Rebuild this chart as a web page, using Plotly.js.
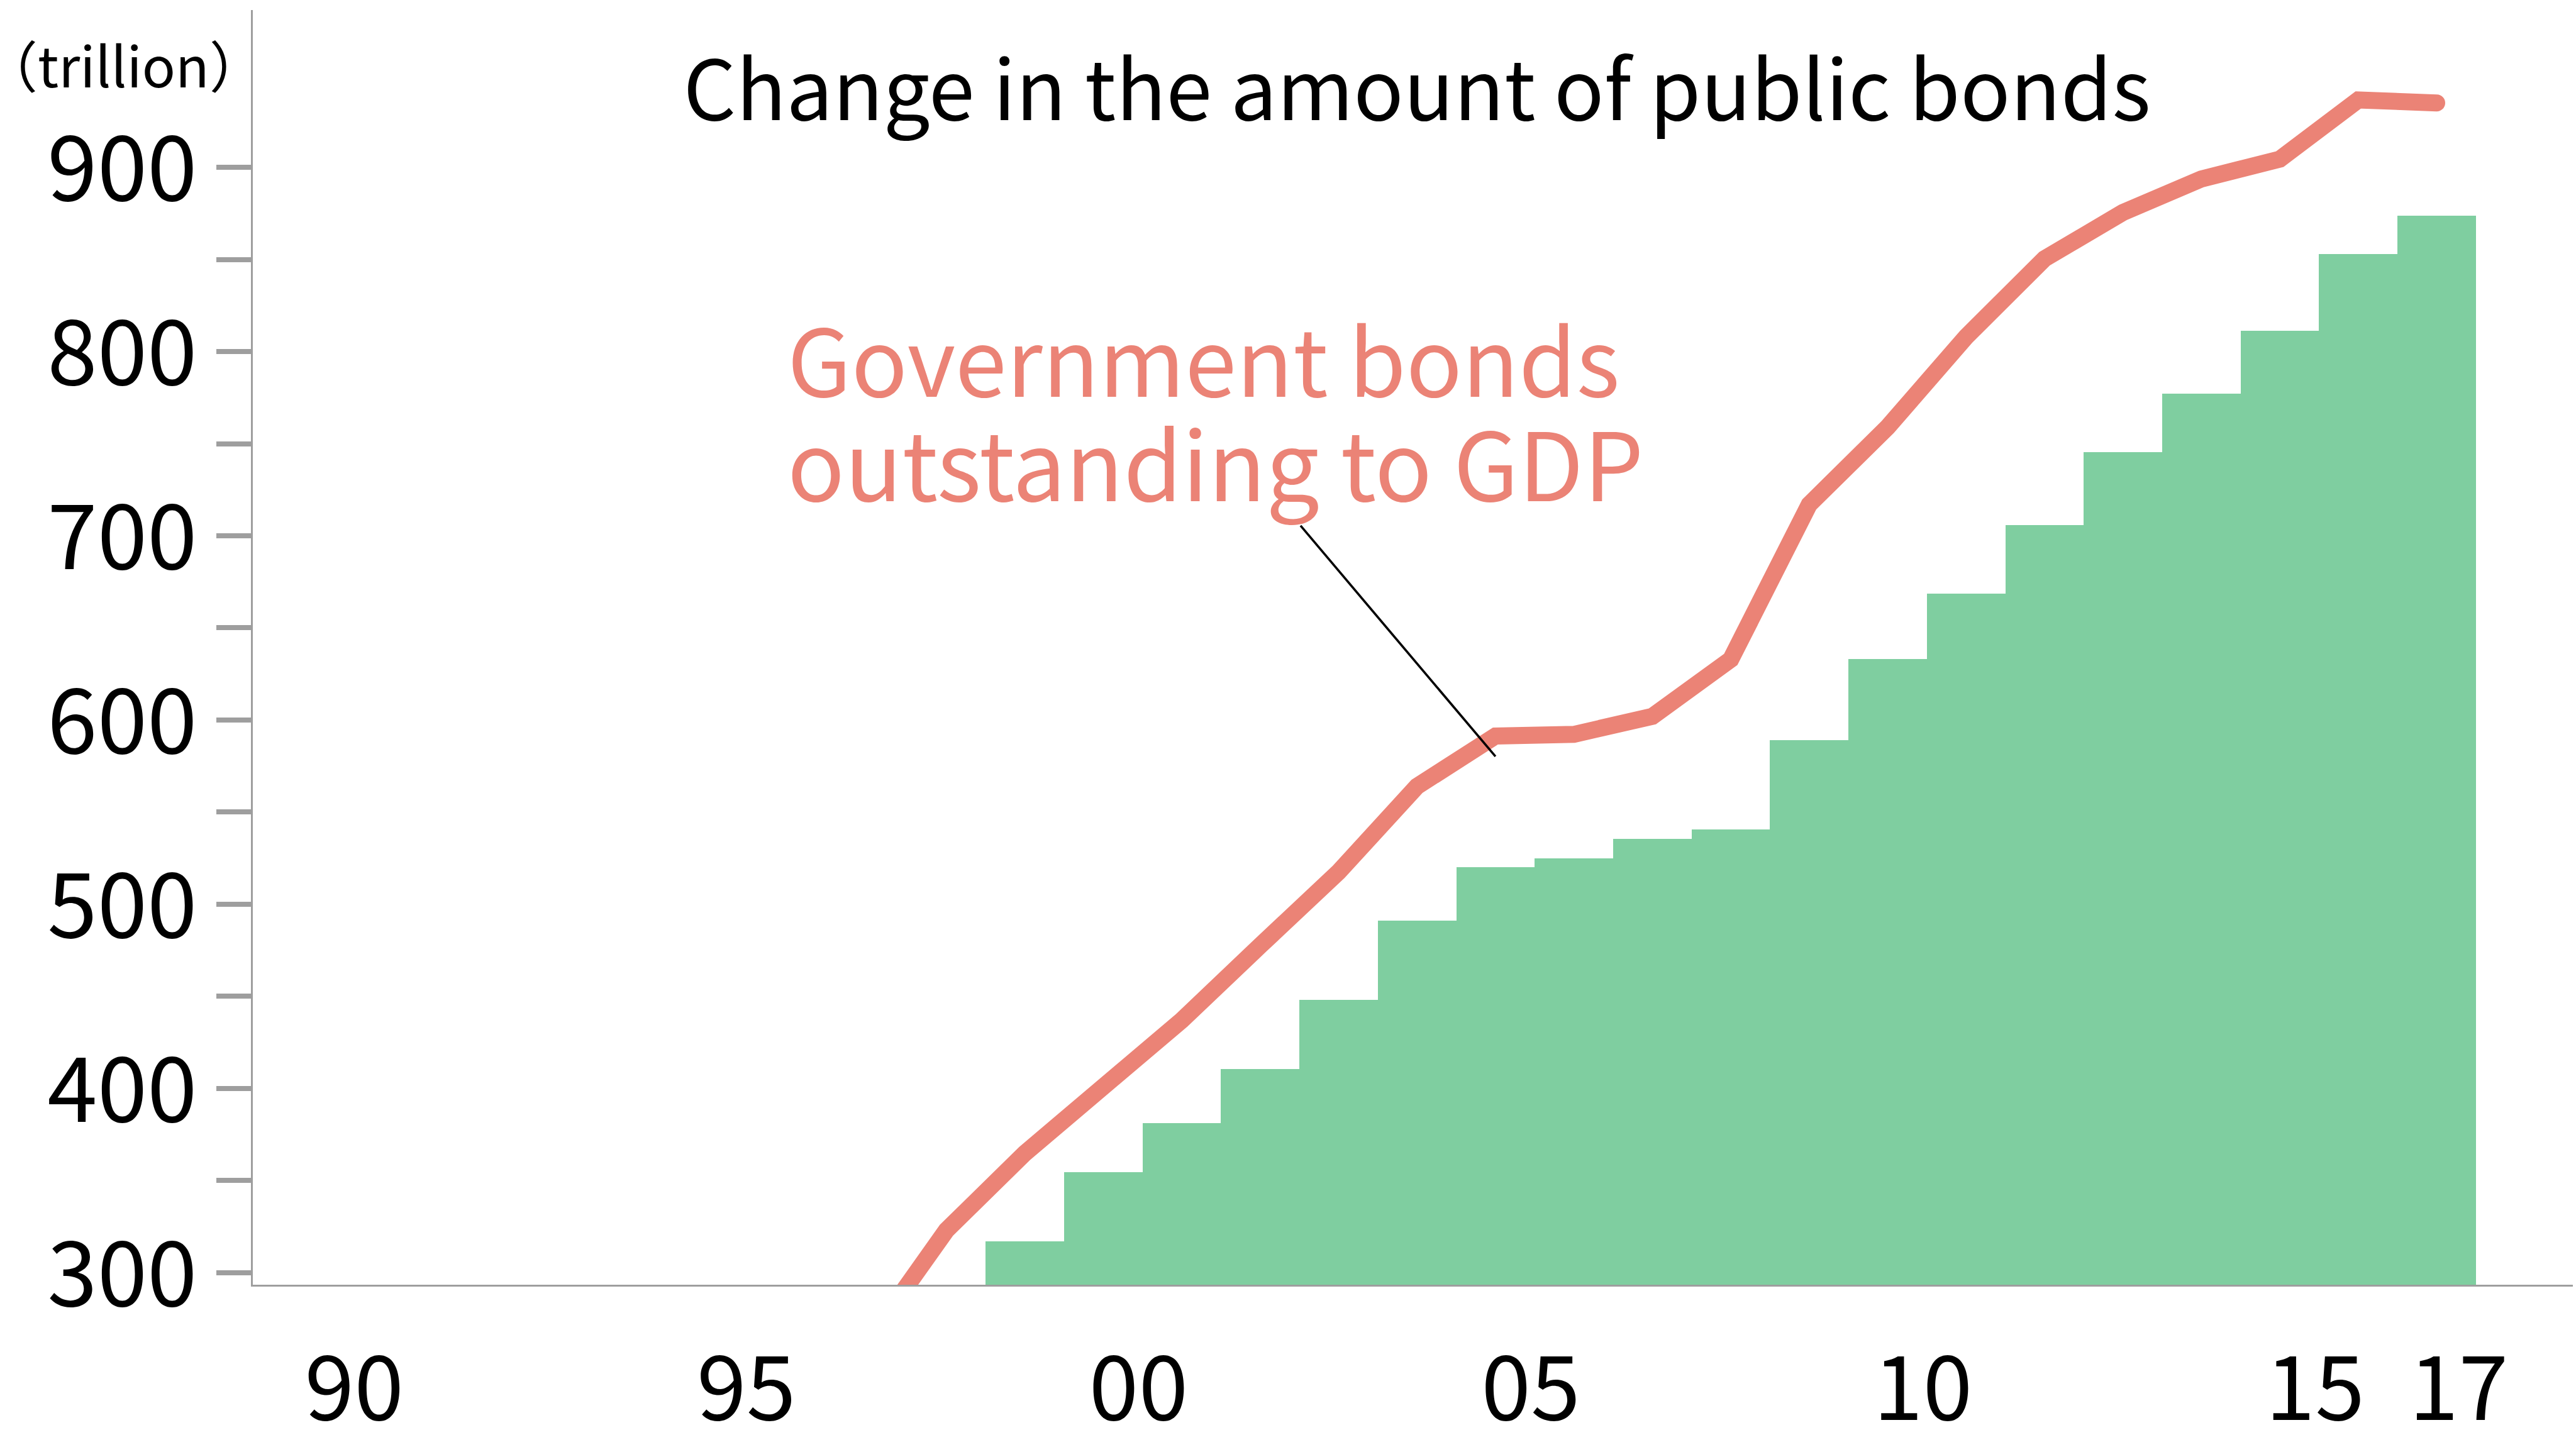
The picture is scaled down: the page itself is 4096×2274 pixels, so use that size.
<!DOCTYPE html>
<html>
<head>
<meta charset="utf-8">
<script src="https://cdn.plot.ly/plotly-3.0.1.min.js"></script>
<style>
  html, body { margin: 0; padding: 0; background: #ffffff; }
  #chart { width: 4096px; height: 2274px; }
</style>
</head>
<body>
<div id="chart"></div>
<script>
// ---- data ----
const barYears = [1999, 2000, 2001, 2002, 2003, 2004, 2005, 2006, 2007, 2008,
                  2009, 2010, 2011, 2012, 2013, 2014, 2015, 2016, 2017];
const bondValues = [317, 354.5, 381, 410.5, 448, 491, 520, 525, 535.3, 540.7,
                    589, 633, 668.6, 705.7, 745.5, 777.2, 811.3, 853.1, 873.7];

const lineYears = [1997, 1998, 1999, 2000, 2001, 2002, 2003, 2004, 2005, 2006, 2007,
                   2008, 2009, 2010, 2011, 2012, 2013, 2014, 2015, 2016, 2017];
const ratioValues = [263, 323, 364.8, 401, 437, 477.5, 517.5, 564, 591.3, 592.2, 602,
                     632.9, 717, 759, 808, 850.4, 875.5, 893.7, 904.5, 936.6, 935];

const yTickVals = [300, 350, 400, 450, 500, 550, 600, 650, 700, 750, 800, 850, 900];
const yTickText = ['300', '', '400', '', '500', '', '600', '', '700', '', '800', '', '900'];

const xTickVals = [1990.45, 1995.45, 2000.45, 2005.45, 2010.45, 2015.45, 2017.28];
const xTickText = ['90', '95', '00', '05', '10', '15', '17'];

const titleText = 'Change in the amount of public bonds';
const unitText = '\uFF08trillion\uFF09';
const seriesLabel1 = 'Government bonds';
const seriesLabel2 = 'outstanding to GDP';

// ---- styles ----
const FONT = '"Noto Sans CJK JP", "Noto Sans", sans-serif';
const BAR_COLOR = '#7fcea0';
const LINE_COLOR = '#eb8376';
const AXIS_GRAY = '#9e9e9e';

const traces = [
  {
    type: 'bar',
    x: barYears,
    y: bondValues,
    width: 1,
    marker: { color: BAR_COLOR, line: { width: 0 } },
    hoverinfo: 'skip',
    showlegend: false
  },
  {
    type: 'scatter',
    mode: 'lines',
    x: lineYears,
    y: ratioValues,
    line: { color: LINE_COLOR, width: 27 },
    hoverinfo: 'skip',
    showlegend: false
  }
];

const layout = {
  width: 4096,
  height: 2274,
  paper_bgcolor: '#ffffff',
  plot_bgcolor: '#ffffff',
  margin: { l: 402, r: 5.4, t: 16.3, b: 231.4, pad: 0 },
  font: { family: FONT, color: '#000000' },
  bargap: 0,
  title: {
    text: titleText,
    font: { family: FONT, size: 131.5, color: '#000000' },
    x: 0.5501, xanchor: 'center', xref: 'container',
    y: 0.9362, yanchor: 'middle', yref: 'container'
  },
  xaxis: {
    range: [1989.157, 2018.736],
    tickmode: 'array',
    tickvals: xTickVals,
    ticktext: xTickText,
    ticks: '',
    showgrid: false,
    zeroline: false,
    showline: true,
    linecolor: AXIS_GRAY,
    linewidth: 3,
    tickfont: { family: FONT, size: 142, color: '#000000' },
    ticklabelstandoff: 42,
    fixedrange: true
  },
  yaxis: {
    range: [293.43, 985.4],
    tickmode: 'array',
    tickvals: yTickVals,
    ticktext: yTickText,
    ticks: 'outside',
    ticklen: 55,
    tickwidth: 8,
    tickcolor: AXIS_GRAY,
    showgrid: false,
    zeroline: false,
    showline: true,
    linecolor: AXIS_GRAY,
    linewidth: 3,
    tickfont: { family: FONT, size: 143, color: '#000000' },
    ticklabelstandoff: 2,
    ticklabelshift: 3,
    fixedrange: true
  },
  annotations: [
    {
      text: unitText, xref: 'paper', yref: 'paper',
      x: -0.0556, y: 0.9582, xanchor: 'center', yanchor: 'middle',
      showarrow: false,
      font: { family: FONT, size: 88, color: '#000000' }
    },
    {
      text: seriesLabel1, xref: 'paper', yref: 'paper',
      x: 0.2300, y: 0.7285, xanchor: 'left', yanchor: 'middle',
      showarrow: false,
      font: { family: FONT, size: 147.5, color: LINE_COLOR }
    },
    {
      text: seriesLabel2, xref: 'paper', yref: 'paper',
      x: 0.2300, y: 0.6475, xanchor: 'left', yanchor: 'middle',
      showarrow: false,
      font: { family: FONT, size: 150.5, color: LINE_COLOR }
    }
  ],
  shapes: [
    {
      type: 'line', xref: 'x', yref: 'y',
      x0: 2002.515, y0: 705.5, x1: 2005, y1: 580.2,
      line: { color: '#000000', width: 3.6 }
    }
  ]
};

Plotly.newPlot('chart', traces, layout, { staticPlot: true, displayModeBar: false }).then(function () {
  document.querySelectorAll('.scatterlayer .js-line').forEach(function (p) {
    p.style.strokeLinecap = 'round';
    p.style.strokeLinejoin = 'miter';
  });
});
</script>
</body>
</html>
